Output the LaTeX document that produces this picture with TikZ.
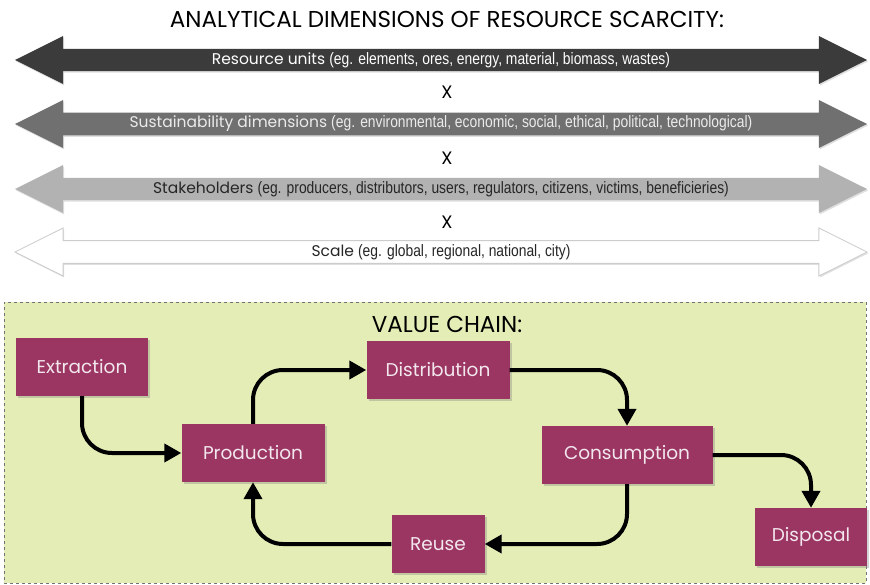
\documentclass[tikz,border=0pt]{standalone}
\usepackage{fontspec}
\setmainfont{Poppins}
\newfontfamily\narrowfont[FakeStretch=0.84]{Liberation Sans}
\usetikzlibrary{shapes.arrows,shadows,arrows.meta}
\definecolor{maroon}{HTML}{9B3663}
\definecolor{chainbg}{HTML}{E4EDB5}
\definecolor{ndtext}{HTML}{F3E7EE}
\tikzset{
  dimarrow/.style={double arrow, double arrow tip angle=53, minimum width=48pt,
    double arrow head extend=9pt, minimum height=852pt, inner sep=0pt,
    font=\fontsize{15.5}{17}\selectfont,
    drop shadow={shadow xshift=1pt, shadow yshift=-1.5pt, opacity=0.25}},
  stepbox/.style={fill=maroon, text=ndtext, font=\fontsize{18.5}{20}\selectfont,
    minimum height=58pt, inner sep=0pt,
    drop shadow={shadow xshift=2pt, shadow yshift=-2pt, opacity=0.35}},
  conn/.style={line width=4pt, rounded corners=30pt,
    -{Triangle[length=17pt,width=18pt]}},
  times/.style={font=\fontsize{18}{20}\selectfont}
}
\newcommand{\egtext}[1]{{\narrowfont\fontsize{16.5}{18}\selectfont #1}}
\begin{document}
\begin{tikzpicture}[x=1pt,y=-1pt]
\useasboundingbox (0,0) rectangle (870,585);
\node (title) at (447,19) {\fontsize{23}{25}\selectfont ANALYTICAL DIMENSIONS OF RESOURCE SCARCITY:};

\node[dimarrow, fill=black!77, text=white] (a1) at (441,60)
  {Resource units \egtext{(eg. elements, ores, energy, material, biomass, wastes)}};
\node[times] (x1) at (447,92) {X};
\node[dimarrow, fill=black!56, text=white!92!black] (a2) at (441,124)
  {Sustainability dimensions \egtext{(eg. environmental, economic, social, ethical, political, technological)}};
\node[times] (x2) at (447,158) {X};
\node[dimarrow, fill=black!30, text=black!85] (a3) at (441,189)
  {Stakeholders \egtext{(eg. producers, distributors, users, regulators, citizens, victims, beneficieries)}};
\node[times] (x3) at (447,222) {X};
\node[dimarrow, fill=white, draw=black!20, line width=0.8pt, text=black!85] (a4) at (441,252)
  {Scale \egtext{(eg. global, regional, national, city)}};

\node[draw=black!55, dashed, fill=chainbg, minimum width=862pt, minimum height=281pt, inner sep=0pt] (chain) at (435,442.5) {};
\node (vctitle) at (447,324) {\fontsize{23}{25}\selectfont VALUE CHAIN:};

\node[stepbox, minimum width=132pt] (extr) at (82,367) {Extraction};
\node[stepbox, minimum width=143pt] (prod) at (253,453) {Production};
\node[stepbox, minimum width=143pt] (dist) at (438,370) {Distribution};
\node[stepbox, minimum width=171pt] (cons) at (627,455) {Consumption};
\node[stepbox, minimum width=93pt] (reuse) at (438,544) {Reuse};
\node[stepbox, minimum width=112pt] (disp) at (811,537) {Disposal};

\draw[conn] (extr.south) |- (prod.west);
\draw[conn] (prod.north) |- (dist.west);
\draw[conn] (dist.east) -| (cons.north);
\draw[conn] (cons.east) -| (disp.north);
\draw[conn] (cons.south) |- (reuse.east);
\draw[conn] (reuse.west) -| (prod.south);
\end{tikzpicture}
\end{document}
